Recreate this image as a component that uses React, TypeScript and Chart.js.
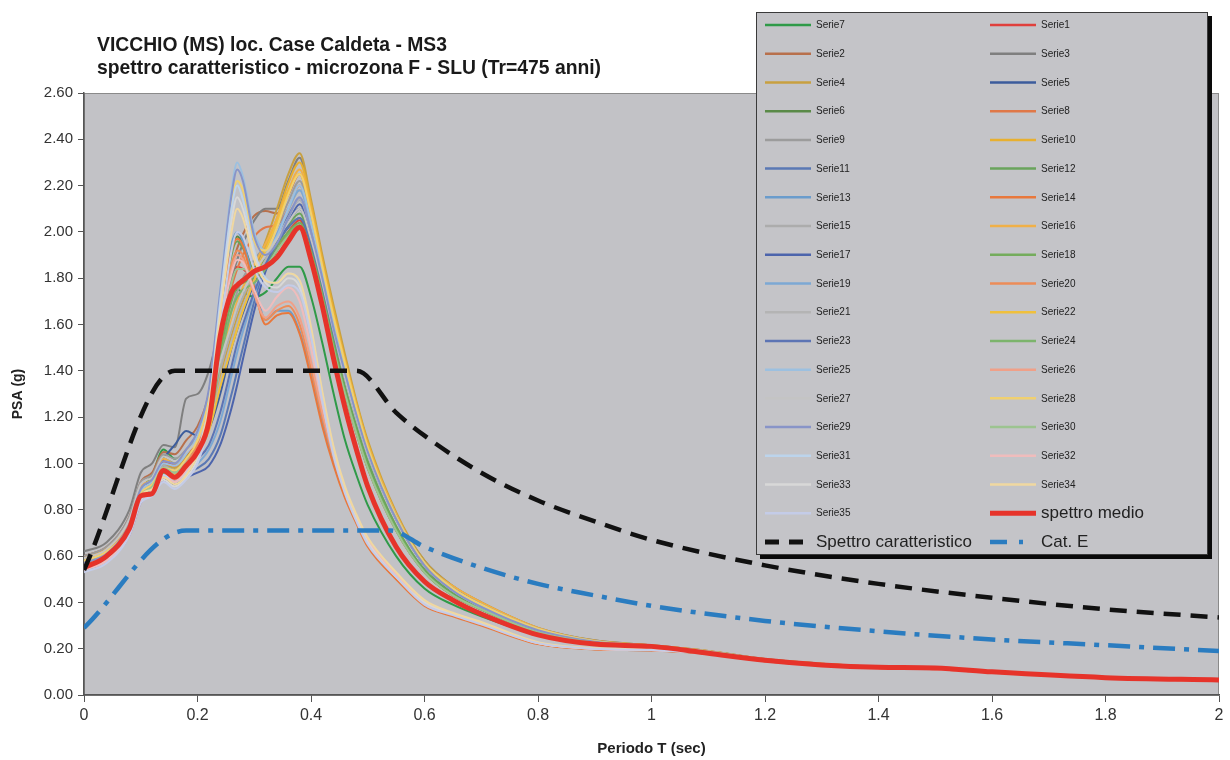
import React, { useEffect, useRef } from "react";
import { Chart, registerables } from "chart.js";

Chart.register(...registerables);

// ---------- data ----------
const PERIODS = [0, 0.04, 0.08, 0.1, 0.12, 0.14, 0.16, 0.18, 0.2, 0.22, 0.24, 0.26, 0.27, 0.28, 0.3, 0.32, 0.34, 0.36, 0.38, 0.4, 0.42, 0.44, 0.46, 0.48, 0.5, 0.55, 0.6, 0.65, 0.7, 0.8, 0.9, 1.0, 1.1, 1.2, 1.3, 1.4, 1.5, 1.6, 1.8, 2.0];

const SERIE1 = [0.56,0.60,0.73,0.88,0.92, 1.01,0.99,1.03,1.09,1.28, 1.70,1.82,1.85,1.84,1.80, 1.84,1.92,2.00,2.05,1.92, 1.72,1.50,1.30,1.13,0.98, 0.71,0.53,0.43,0.37,0.272, 0.227,0.209,0.185,0.151,0.132, 0.12,0.115,0.098,0.074,0.064];
const SERIE2 = [0.60,0.64,0.77,0.92,0.96, 1.05,1.04,1.10,1.16,1.30, 1.60,1.85,1.93,1.99,2.07, 2.09,2.08,2.16,2.25,2.08, 1.86,1.64,1.44,1.25,1.08, 0.78,0.57,0.46,0.39,0.285, 0.233,0.213,0.189,0.154,0.134, 0.121,0.117,0.099,0.075,0.065];
const SERIE3 = [0.62,0.66,0.80,0.96,1.00, 1.08,1.07,1.28,1.30,1.40, 1.60,1.80,1.88,1.95,2.05, 2.10,2.10,2.22,2.32,2.12, 1.88,1.66,1.45,1.26,1.09, 0.78,0.58,0.47,0.40,0.29, 0.236,0.215,0.19,0.155,0.135, 0.122,0.118,0.10,0.076,0.066];
const SERIE4 = [0.58,0.62,0.74,0.88,0.92, 1.00,0.98,1.03,1.08,1.18, 1.38,1.55,1.63,1.70,1.83, 1.96,2.10,2.25,2.34,2.14, 1.90,1.68,1.47,1.27,1.10, 0.79,0.58,0.47,0.40,0.29, 0.235,0.215,0.19,0.155,0.135, 0.122,0.118,0.10,0.076,0.066];
const SERIE5 = [0.56,0.60,0.72,0.86,0.92, 1.02,1.08,1.14,1.12,1.15, 1.30,1.50,1.58,1.65,1.78, 1.88,1.96,2.04,2.10,1.98, 1.80,1.59,1.39,1.21,1.05, 0.76,0.56,0.45,0.38,0.28, 0.23,0.211,0.187,0.152,0.133, 0.12,0.116,0.098,0.074,0.064];
const SERIE6 = [0.58,0.62,0.74,0.89,0.93, 1.03,1.00,1.04,1.10,1.26, 1.62,1.92,1.98,1.95,1.85, 1.88,1.95,2.02,2.06,1.94, 1.74,1.52,1.32,1.15,1.00, 0.72,0.54,0.44,0.37,0.275, 0.228,0.21,0.186,0.151,0.132, 0.12,0.115,0.098,0.074,0.064];
const SERIE7 = [0.57,0.61,0.73,0.88,0.95, 1.06,1.02,1.04,1.10,1.30, 1.58,1.72,1.75,1.74,1.72, 1.74,1.80,1.85,1.85,1.72, 1.52,1.30,1.10,0.95,0.82, 0.60,0.46,0.39,0.34,0.26, 0.22,0.205,0.184,0.15,0.131, 0.119,0.114,0.098,0.074,0.063];
const SERIE8 = [0.58,0.62,0.74,0.88,0.92, 1.00,0.99,1.04,1.10,1.24, 1.52,1.76,1.84,1.90,1.98, 2.02,2.03,2.10,2.20,2.04, 1.83,1.61,1.41,1.23,1.06, 0.77,0.56,0.46,0.39,0.283, 0.232,0.212,0.188,0.153,0.133, 0.121,0.117,0.099,0.075,0.065];
const SERIE9 = [0.60,0.64,0.77,0.92,0.95, 1.04,1.02,1.06,1.12,1.25, 1.48,1.66,1.74,1.80,1.88, 1.94,2.02,2.13,2.22,2.06, 1.84,1.62,1.42,1.24,1.07, 0.77,0.57,0.46,0.39,0.285, 0.233,0.213,0.189,0.154,0.134, 0.121,0.117,0.099,0.075,0.065];
const SERIE10 = [0.57,0.61,0.72,0.86,0.90, 0.98,0.97,1.01,1.06,1.16, 1.36,1.52,1.60,1.67,1.80, 1.93,2.06,2.21,2.30,2.12, 1.88,1.66,1.45,1.26,1.09, 0.78,0.57,0.46,0.39,0.285, 0.232,0.213,0.188,0.153,0.134, 0.121,0.117,0.099,0.075,0.065];
const SERIE11 = [0.55,0.59,0.70,0.84,0.88, 0.95,0.93,0.96,0.98,1.02, 1.12,1.30,1.40,1.50,1.70, 1.86,1.97,2.07,2.14,2.02, 1.83,1.61,1.41,1.23,1.06, 0.77,0.56,0.46,0.39,0.283, 0.232,0.212,0.188,0.153,0.133, 0.121,0.117,0.099,0.075,0.065];
const SERIE12 = [0.57,0.61,0.72,0.87,0.91, 0.99,0.97,1.01,1.07,1.22, 1.58,1.90,1.96,1.93,1.84, 1.88,1.96,2.03,2.08,1.95, 1.75,1.53,1.33,1.16,1.01, 0.73,0.54,0.44,0.37,0.275, 0.228,0.21,0.186,0.151,0.132, 0.12,0.115,0.098,0.074,0.064];
const SERIE13 = [0.55,0.59,0.71,0.85,0.89, 0.97,0.95,1.00,1.08,1.28, 1.70,1.95,2.00,1.96,1.78, 1.62,1.66,1.66,1.57,1.39, 1.18,1.00,0.86,0.75,0.65, 0.51,0.39,0.345,0.305,0.222, 0.198,0.193,0.178,0.146,0.129, 0.117,0.111,0.097,0.072,0.061];
const SERIE14 = [0.56,0.60,0.72,0.86,0.90, 0.98,0.96,1.01,1.10,1.30, 1.68,1.92,1.97,1.94,1.76, 1.60,1.64,1.65,1.56,1.37, 1.16,0.99,0.85,0.74,0.64, 0.50,0.385,0.34,0.30,0.22, 0.197,0.192,0.178,0.146,0.129, 0.117,0.111,0.097,0.072,0.061];
const SERIE15 = [0.58,0.62,0.73,0.87,0.91, 0.99,0.97,1.01,1.07,1.18, 1.40,1.58,1.66,1.72,1.82, 1.90,1.99,2.09,2.18,2.03, 1.82,1.60,1.40,1.22,1.06, 0.77,0.56,0.46,0.39,0.28, 0.232,0.212,0.188,0.153,0.133, 0.121,0.117,0.099,0.075,0.065];
const SERIE16 = [0.59,0.63,0.75,0.90,0.93, 1.02,1.00,1.05,1.10,1.22, 1.45,1.62,1.70,1.76,1.86, 1.95,2.06,2.18,2.27,2.10, 1.86,1.64,1.44,1.25,1.08, 0.78,0.57,0.47,0.40,0.29, 0.234,0.214,0.19,0.154,0.135, 0.122,0.118,0.10,0.076,0.066];
const SERIE17 = [0.54,0.58,0.69,0.83,0.87, 0.93,0.91,0.94,0.96,0.99, 1.08,1.24,1.34,1.45,1.66, 1.83,1.94,2.04,2.12,2.00, 1.82,1.60,1.40,1.22,1.06, 0.77,0.56,0.46,0.39,0.283, 0.232,0.212,0.188,0.153,0.133, 0.121,0.117,0.099,0.075,0.065];
const SERIE18 = [0.56,0.60,0.71,0.85,0.89, 0.97,0.95,0.99,1.05,1.18, 1.48,1.70,1.76,1.78,1.80, 1.86,1.94,2.00,2.04,1.92, 1.73,1.51,1.31,1.14,0.99, 0.72,0.53,0.43,0.37,0.272, 0.227,0.209,0.185,0.151,0.132, 0.12,0.115,0.098,0.074,0.064];
const SERIE19 = [0.56,0.60,0.71,0.85,0.88, 0.95,0.93,0.97,1.00,1.06, 1.18,1.38,1.48,1.57,1.73, 1.87,1.99,2.10,2.18,2.04, 1.84,1.62,1.42,1.24,1.07, 0.77,0.57,0.46,0.39,0.285, 0.232,0.212,0.188,0.153,0.133, 0.121,0.117,0.099,0.075,0.065];
const SERIE20 = [0.57,0.61,0.73,0.87,0.90, 0.97,0.95,1.00,1.08,1.26, 1.62,1.86,1.92,1.90,1.74, 1.62,1.66,1.68,1.60,1.41, 1.20,1.02,0.87,0.76,0.66, 0.51,0.39,0.345,0.305,0.222, 0.198,0.193,0.178,0.146,0.129, 0.117,0.111,0.097,0.072,0.061];
const SERIE21 = [0.57,0.61,0.72,0.86,0.90, 0.97,0.96,1.00,1.05,1.15, 1.35,1.53,1.61,1.68,1.79, 1.88,1.97,2.06,2.14,2.00, 1.80,1.58,1.38,1.21,1.05, 0.76,0.56,0.45,0.38,0.28, 0.23,0.211,0.187,0.152,0.133, 0.12,0.116,0.098,0.074,0.064];
const SERIE22 = [0.56,0.60,0.71,0.85,0.89, 0.96,0.95,0.99,1.04,1.14, 1.33,1.50,1.58,1.66,1.79, 1.92,2.04,2.17,2.25,2.08, 1.85,1.63,1.43,1.24,1.07, 0.77,0.57,0.46,0.39,0.285, 0.232,0.212,0.188,0.153,0.133, 0.121,0.117,0.099,0.075,0.065];
const SERIE23 = [0.55,0.59,0.71,0.85,0.89, 0.96,0.94,0.98,1.02,1.08, 1.22,1.42,1.52,1.60,1.74, 1.86,1.95,2.02,2.06,1.95, 1.77,1.56,1.37,1.20,1.04, 0.76,0.56,0.45,0.38,0.28, 0.23,0.211,0.187,0.152,0.133, 0.12,0.116,0.098,0.074,0.064];
const SERIE24 = [0.55,0.59,0.70,0.84,0.88, 0.96,0.94,0.98,1.03,1.16, 1.44,1.66,1.72,1.75,1.78, 1.84,1.92,1.99,2.03,1.91, 1.72,1.50,1.30,1.13,0.98, 0.71,0.53,0.43,0.37,0.27, 0.226,0.208,0.185,0.15,0.131, 0.119,0.115,0.098,0.074,0.064];
const SERIE25 = [0.56,0.60,0.73,0.88,0.92, 1.00,0.99,1.04,1.12,1.30, 1.75,2.18,2.30,2.24,2.00, 1.92,1.98,2.10,2.20,2.04, 1.82,1.60,1.40,1.22,1.06, 0.77,0.57,0.46,0.39,0.285, 0.232,0.212,0.188,0.153,0.133, 0.121,0.117,0.099,0.075,0.065];
const SERIE26 = [0.55,0.59,0.70,0.84,0.88, 0.95,0.93,0.98,1.06,1.24, 1.60,1.84,1.90,1.88,1.73, 1.63,1.68,1.70,1.63,1.44, 1.22,1.03,0.88,0.76,0.66, 0.51,0.395,0.35,0.31,0.224, 0.199,0.194,0.179,0.147,0.129, 0.117,0.111,0.097,0.072,0.061];
const SERIE27 = [0.59,0.63,0.76,0.91,0.94, 1.03,1.01,1.05,1.10,1.22, 1.44,1.60,1.68,1.74,1.83, 1.90,1.97,2.04,2.10,1.97, 1.78,1.57,1.37,1.20,1.04, 0.76,0.56,0.45,0.38,0.28, 0.23,0.211,0.187,0.152,0.133, 0.12,0.116,0.098,0.074,0.064];
const SERIE28 = [0.58,0.62,0.73,0.87,0.91, 0.98,0.97,1.02,1.10,1.28, 1.70,2.12,2.22,2.18,1.96, 1.92,2.02,2.16,2.25,2.08, 1.85,1.63,1.43,1.24,1.07, 0.77,0.57,0.46,0.39,0.285, 0.232,0.212,0.188,0.153,0.133, 0.121,0.117,0.099,0.075,0.065];
const SERIE29 = [0.57,0.61,0.74,0.89,0.93, 1.01,1.00,1.06,1.14,1.32, 1.74,2.16,2.27,2.22,1.98, 1.90,1.95,2.06,2.15,2.00, 1.80,1.58,1.39,1.21,1.05, 0.76,0.56,0.45,0.38,0.28, 0.23,0.211,0.187,0.152,0.133, 0.12,0.116,0.098,0.074,0.064];
const SERIE30 = [0.56,0.60,0.72,0.86,0.90, 0.98,0.96,1.00,1.06,1.20, 1.52,1.78,1.84,1.84,1.82, 1.85,1.92,1.98,2.01,1.90, 1.71,1.49,1.30,1.13,0.98, 0.71,0.53,0.43,0.37,0.27, 0.226,0.208,0.185,0.15,0.131, 0.119,0.115,0.098,0.074,0.064];
const SERIE31 = [0.54,0.58,0.70,0.84,0.88, 0.95,0.92,0.96,1.05,1.25, 1.70,2.10,2.20,2.14,1.92, 1.80,1.78,1.82,1.78,1.58, 1.30,1.06,0.89,0.77,0.67, 0.52,0.40,0.35,0.31,0.226, 0.201,0.195,0.18,0.148,0.13, 0.118,0.112,0.098,0.073,0.062];
const SERIE32 = [0.54,0.58,0.69,0.83,0.87, 0.94,0.92,0.97,1.04,1.22, 1.58,1.82,1.88,1.87,1.75, 1.66,1.72,1.76,1.70,1.50, 1.26,1.05,0.89,0.77,0.67, 0.52,0.40,0.35,0.31,0.225, 0.20,0.194,0.179,0.147,0.13, 0.118,0.112,0.097,0.073,0.062];
const SERIE33 = [0.55,0.59,0.71,0.85,0.88, 0.93,0.90,0.94,1.02,1.22, 1.66,2.05,2.15,2.10,1.90, 1.78,1.76,1.80,1.76,1.56, 1.28,1.04,0.88,0.76,0.66, 0.51,0.40,0.35,0.31,0.225, 0.20,0.194,0.18,0.147,0.13, 0.118,0.112,0.097,0.073,0.062];
const SERIE34 = [0.56,0.60,0.72,0.86,0.89, 0.94,0.91,0.95,1.04,1.24, 1.64,2.00,2.10,2.06,1.88, 1.79,1.78,1.82,1.79,1.59, 1.31,1.07,0.90,0.78,0.68, 0.53,0.41,0.355,0.315,0.228, 0.202,0.196,0.181,0.148,0.13, 0.118,0.112,0.098,0.073,0.062];
const SERIE35 = [0.53,0.57,0.69,0.83,0.86, 0.92,0.89,0.93,1.00,1.18, 1.58,1.92,2.00,1.98,1.84, 1.76,1.74,1.77,1.74,1.55, 1.27,1.03,0.87,0.75,0.65, 0.51,0.39,0.345,0.305,0.224, 0.20,0.194,0.179,0.147,0.129, 0.117,0.111,0.097,0.072,0.061];

const SPETTRO_MEDIO = [0.55,0.60,0.72,0.86,0.87, 0.97,0.94,0.99,1.05,1.18, 1.55,1.74,1.77,1.79,1.83, 1.85,1.89,1.96,2.02,1.88, 1.68,1.45,1.24,1.06,0.90, 0.64,0.49,0.41,0.35,0.26, 0.22,0.21,0.18,0.15,0.13, 0.12,0.117,0.10,0.075,0.065];

const CARATT_T = [0, 0.16, 0.48, 0.55, 0.6, 0.7, 0.8, 0.9, 1.0, 1.2, 1.4, 1.6, 1.8, 2.0];
const CARATT_V = [0.54, 1.40, 1.40, 1.22, 1.12, 0.96, 0.84, 0.75, 0.67, 0.56, 0.48, 0.42, 0.37, 0.335];
const CATE_T = [0, 0.18, 0.54, 0.6, 0.7, 0.8, 0.9, 1.0, 1.2, 1.4, 1.6, 1.8, 2.0];
const CATE_V = [0.29, 0.71, 0.71, 0.64, 0.55, 0.48, 0.43, 0.385, 0.32, 0.275, 0.24, 0.215, 0.19];

const X_TICKS = [0, 0.2, 0.4, 0.6, 0.8, 1, 1.2, 1.4, 1.6, 1.8, 2];
const Y_TICKS = [0, 0.2, 0.4, 0.6, 0.8, 1.0, 1.2, 1.4, 1.6, 1.8, 2.0, 2.2, 2.4, 2.6];

const TITLE_LINES = [
  "VICCHIO (MS) loc. Case Caldeta - MS3",
  "spettro caratteristico - microzona F - SLU (Tr=475 anni)",
];

// series in the legend order of the original (row-major, two columns)
const SERIES: [string, number[]][] = [
  ["Serie7", SERIE7], ["Serie1", SERIE1], ["Serie2", SERIE2], ["Serie3", SERIE3],
  ["Serie4", SERIE4], ["Serie5", SERIE5], ["Serie6", SERIE6], ["Serie8", SERIE8],
  ["Serie9", SERIE9], ["Serie10", SERIE10], ["Serie11", SERIE11], ["Serie12", SERIE12],
  ["Serie13", SERIE13], ["Serie14", SERIE14], ["Serie15", SERIE15], ["Serie16", SERIE16],
  ["Serie17", SERIE17], ["Serie18", SERIE18], ["Serie19", SERIE19], ["Serie20", SERIE20],
  ["Serie21", SERIE21], ["Serie22", SERIE22], ["Serie23", SERIE23], ["Serie24", SERIE24],
  ["Serie25", SERIE25], ["Serie26", SERIE26], ["Serie27", SERIE27], ["Serie28", SERIE28],
  ["Serie29", SERIE29], ["Serie30", SERIE30], ["Serie31", SERIE31], ["Serie32", SERIE32],
  ["Serie33", SERIE33], ["Serie34", SERIE34], ["Serie35", SERIE35],
];

// ---------- styles ----------
const SERIES_COLORS: Record<string, string> = {
  Serie1: "#e0403c", Serie2: "#b8704c", Serie3: "#7f7f7f", Serie4: "#c8a040", Serie5: "#3c5c9c",
  Serie6: "#5a8a48", Serie7: "#2f9a48", Serie8: "#e07848", Serie9: "#9c9c9c", Serie10: "#e8b030",
  Serie11: "#5a78b4", Serie12: "#6aa45c", Serie13: "#6a9ccc", Serie14: "#e8783c", Serie15: "#acacac",
  Serie16: "#f0b048", Serie17: "#4c64ac", Serie18: "#74ac5c", Serie19: "#7ca8d4", Serie20: "#ec8c58",
  Serie21: "#b4b4b4", Serie22: "#f0c03c", Serie23: "#5c74b4", Serie24: "#7cb46c", Serie25: "#9cc0e0",
  Serie26: "#f0a088", Serie27: "#c4c4c4", Serie28: "#f0d070", Serie29: "#8894c8", Serie30: "#9cc490",
  Serie31: "#bcd4ec", Serie32: "#f0bcbc", Serie33: "#d8d8d8", Serie34: "#f0d8a0", Serie35: "#c4cce8",
};
const RED = "#e6332a";
const BLACK = "#111111";
const BLUE = "#2a7cc0";
const PLOT_BG = "#c2c2c6";
const FONT = "'Liberation Sans', Arial, sans-serif";
const NARROW = "'Liberation Sans Narrow', 'Liberation Sans', Arial, sans-serif";

const W = 1230;
const H = 760;

const pts = (xs: number[], ys: number[]) => xs.map((x, i) => ({ x, y: ys[i] }));

const plotBgPlugin = {
  id: "plotBg",
  beforeDraw(chart: any) {
    const { ctx, chartArea: a } = chart;
    ctx.save();
    ctx.fillStyle = "#ffffff";
    ctx.fillRect(0, 0, chart.width, chart.height);
    ctx.fillStyle = PLOT_BG;
    ctx.fillRect(a.left, a.top, a.right - a.left, a.bottom - a.top);
    ctx.strokeStyle = "#8a8a8a";
    ctx.lineWidth = 1;
    ctx.strokeRect(a.left + 0.5, a.top + 0.5, a.right - a.left - 1, a.bottom - a.top);
    ctx.restore();
  },
};

const LEGEND_STYLE: Record<string, { dash: number[]; width: number; font: number }> = {
  "spettro medio": { dash: [], width: 5, font: 17 },
  "Spettro caratteristico": { dash: [14, 10], width: 5, font: 17 },
  "Cat. E": { dash: [17, 12, 4, 60], width: 4.5, font: 17 },
};

const overlayPlugin = {
  id: "overlay",
  afterDraw(chart: any) {
    const ctx = chart.ctx;
    ctx.save();
    // title (condensed bold, like the original narrow face)
    ctx.save();
    ctx.fillStyle = "#1a1a1a";
    ctx.font = `bold 21px ${NARROW}`;
    ctx.textAlign = "left";
    ctx.textBaseline = "alphabetic";
    ctx.translate(97, 0);
    ctx.scale(0.92, 1);
    ctx.fillText(TITLE_LINES[0], 0, 51);
    ctx.fillText(TITLE_LINES[1], 0, 74);
    ctx.restore();

    // legend box
    const bx = 756, by = 12, bw = 452, bh = 543;
    ctx.fillStyle = "#0a0a0a";
    ctx.fillRect(bx + 4, by + 4, bw, bh);
    ctx.fillStyle = "#c4c4c8";
    ctx.fillRect(bx, by, bw, bh);
    ctx.strokeStyle = "#3a3a3a";
    ctx.lineWidth = 1;
    ctx.strokeRect(bx + 0.5, by + 0.5, bw - 1, bh - 1);

    const datasets = chart.data.datasets;
    const order = [...SERIES.map((s) => s[0]), "spettro medio", "Spettro caratteristico", "Cat. E"];
    order.forEach((label, k) => {
      const ds = datasets.find((d: any) => d.label === label);
      if (!ds) return;
      const row = Math.floor(k / 2);
      const col = k % 2;
      const y = 25 + row * 28.72;
      const x0 = col ? 990 : 765;
      const st = LEGEND_STYLE[label] || { dash: [], width: 2.5, font: 10 };
      ctx.beginPath();
      ctx.setLineDash(st.dash);
      ctx.lineCap = "butt";
      ctx.strokeStyle = ds.borderColor;
      ctx.lineWidth = st.width;
      ctx.moveTo(x0, y);
      ctx.lineTo(x0 + 46, y);
      ctx.stroke();
      ctx.setLineDash([]);
      ctx.fillStyle = "#222";
      ctx.font = `${st.font}px ${FONT}`;
      ctx.textBaseline = "middle";
      ctx.fillText(label, x0 + 51, y + 0.5);
    });
    ctx.restore();
  },
};

export default function App() {
  const ref = useRef<HTMLCanvasElement | null>(null);

  useEffect(() => {
    if (!ref.current) return;
    const seriesSets = SERIES.map(([name, vals], i) => ({
      label: name,
      data: pts(PERIODS, vals),
      borderColor: SERIES_COLORS[name],
      borderWidth: 2,
      pointRadius: 0,
      fill: false,
      cubicInterpolationMode: "monotone" as const,
      order: 100 - i,
    }));
    const chart = new Chart(ref.current, {
      type: "line",
      data: {
        datasets: [
          ...seriesSets,
          {
            label: "spettro medio",
            data: pts(PERIODS, SPETTRO_MEDIO),
            borderColor: RED,
            borderWidth: 5,
            pointRadius: 0,
            fill: false,
            cubicInterpolationMode: "monotone",
            order: 2,
          },
          {
            label: "Spettro caratteristico",
            data: pts(CARATT_T, CARATT_V),
            borderColor: BLACK,
            borderWidth: 4.5,
            borderDash: [17, 10],
            pointRadius: 0,
            fill: false,
            cubicInterpolationMode: "monotone",
            order: 1,
          },
          {
            label: "Cat. E",
            data: pts(CATE_T, CATE_V),
            borderColor: BLUE,
            borderWidth: 4.5,
            borderDash: [22, 9, 5, 9],
            pointRadius: 0,
            fill: false,
            cubicInterpolationMode: "monotone",
            order: 0,
          },
        ] as any,
      },
      options: {
        responsive: false,
        animation: false,
        devicePixelRatio: 1,
        events: [],
        layout: { padding: { top: 93, right: 11, bottom: 0, left: 0 } },
        plugins: {
          legend: { display: false },
          tooltip: { enabled: false },
          title: { display: false },
        },
        scales: {
          x: {
            type: "linear",
            min: 0,
            max: 2,
            afterBuildTicks: (s: any) => {
              s.ticks = X_TICKS.map((v) => ({ value: v }));
            },
            afterFit: (s: any) => {
              s.height = 65;
            },
            ticks: {
              callback: (v: any) => String(+(+v).toFixed(1)),
              color: "#333",
              font: { family: NARROW, size: 16 },
              padding: 4,
              maxRotation: 0,
              autoSkip: false,
            },
            grid: { drawOnChartArea: false, drawTicks: true, tickLength: 7, color: "#555" },
            border: { color: "#555", width: 1.5 },
            title: {
              display: true,
              text: "Periodo T (sec)",
              color: "#222",
              font: { family: NARROW, size: 15, weight: "bold" },
              padding: { top: 0, bottom: 2 },
            },
          },
          y: {
            type: "linear",
            min: 0,
            max: 2.6,
            afterBuildTicks: (s: any) => {
              s.ticks = Y_TICKS.map((v) => ({ value: v }));
            },
            afterFit: (s: any) => {
              s.width = 84;
            },
            ticks: {
              callback: (v: any) => (+v).toFixed(2),
              color: "#333",
              font: { family: FONT, size: 15 },
              padding: 5,
              autoSkip: false,
            },
            grid: { drawOnChartArea: false, drawTicks: true, tickLength: 6, color: "#555" },
            border: { color: "#555", width: 1.5 },
            title: {
              display: true,
              text: "PSA (g)",
              color: "#222",
              font: { family: FONT, size: 14, weight: "bold" },
              padding: { top: 10, bottom: 0 },
            },
          },
        },
      } as any,
      plugins: [plotBgPlugin, overlayPlugin],
    });
    return () => chart.destroy();
  }, []);

  return (
    <div style={{ position: "fixed", left: 0, top: 0, width: W, height: H, background: "#fff" }}>
      <canvas ref={ref} width={W} height={H} style={{ display: "block", width: W, height: H }} />
    </div>
  );
}
